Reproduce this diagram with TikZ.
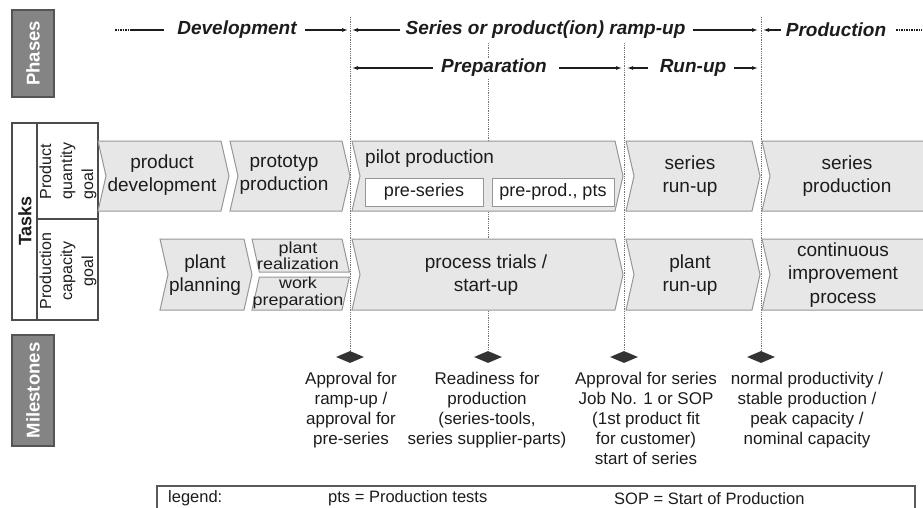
\documentclass[tikz,border=0pt]{standalone}
\usepackage{fontspec}
\setmainfont{Liberation Sans}
\usetikzlibrary{arrows.meta,shapes.geometric}

\definecolor{chevfill}{RGB}{231,231,231}
\definecolor{chevline}{RGB}{150,150,150}
\definecolor{tagfill}{RGB}{132,132,132}
\definecolor{tagline}{RGB}{85,85,85}
\definecolor{ink}{RGB}{28,28,28}
\definecolor{guidegray}{RGB}{115,115,115}

% closed chevron: left x, right x, top y, bottom y
\newcommand\chev[4]{%
  \draw[chev] (#1,#3) -- (#2,#3) -- ({#2+8},{(#3+#4)/2}) -- (#2,#4) -- (#1,#4)
    -- ({#1+8},{(#3+#4)/2}) -- cycle;}
% chevron running off the right edge: left x, top y, bottom y
\newcommand\chevopen[3]{%
  \fill[chevfill] (935,#2) -- (#1,#2) -- ({#1+8},{(#2+#3)/2}) -- (#1,#3) -- (935,#3) -- cycle;
  \draw[chevline,line width=1pt] (935,#2) -- (#1,#2) -- ({#1+8},{(#2+#3)/2}) -- (#1,#3) -- (935,#3);}

\begin{document}
\begin{tikzpicture}[x=1pt,y=-1pt,
  chev/.style={fill=chevfill,draw=chevline,line width=1pt},
  chevtext/.style={font=\fontsize{19}{23.5}\selectfont,text=ink,align=center,inner sep=0pt},
  subtext/.style={font=\fontsize{16}{16.5}\selectfont,text=ink,align=center,inner sep=0pt},
  inbox/.style={fill=white,draw=chevline,line width=1pt,minimum height=28pt,inner sep=0pt,
    font=\fontsize{18}{22}\selectfont,text=ink},
  phase/.style={font=\fontsize{19}{23}\selectfont\bfseries\itshape,text=ink,inner sep=0pt},
  span/.style={-{Latex[length=6pt,width=4pt]},line width=1.1pt,draw=ink},
  plainline/.style={line width=1.1pt,draw=ink},
  guide/.style={draw=guidegray,line width=1pt,dash pattern=on 1pt off 0.8pt},
  tag/.style={fill=tagfill,draw=tagline,line width=1.5pt},
  tagtext/.style={rotate=90,text=white,font=\fontsize{18.5}{20}\selectfont\bfseries,inner sep=0pt},
  rowtext/.style={rotate=90,text=ink,font=\fontsize{16}{21}\selectfont,inner sep=0pt},
  mile/.style={diamond,fill=ink!90,minimum width=28pt,minimum height=12pt,inner sep=0pt},
  mstext/.style={font=\fontsize{17}{20}\selectfont,text=ink,align=center,anchor=north,inner sep=0pt},
  legendtext/.style={font=\fontsize{16.5}{20}\selectfont,text=ink,anchor=west,inner sep=0pt}]

\useasboundingbox (0,0) rectangle (923,508);
\clip (0,0) rectangle (923,508);

% ---- row labels on the left
\draw[tag] (12,10) rectangle (54,97);
\node[tagtext] (phases) at (33,53.5) {Phases};

\draw[line width=1.3pt,draw=black!70] (12,123) rectangle (98,320);
\draw[line width=1.3pt,draw=black!70] (37,123) -- (37,320);
\draw[line width=1.3pt,draw=black!70] (37,219) -- (98,219);
\node[rotate=90,text=ink,font=\fontsize{18}{20}\selectfont\bfseries,inner sep=0pt] (tasks) at (25,221) {Tasks};
\node[rowtext,align=left] (qgoal) at (68,171) {Product\\quantity\\goal};
\node[rowtext,align=center] (cgoal) at (68,271) {Production\\capacity\\goal};

\draw[tag] (12,335) rectangle (54,446);
\node[tagtext] (miles) at (33,390.5) {Milestones};

% ---- milestone guides and diamonds
\coordinate (g1) at (350,17);
\coordinate (g2) at (488,43);
\coordinate (g3) at (624,43);
\coordinate (g4) at (761,17);
\node[mile] (m1) at (350,357) {};
\node[mile] (m2) at (488,357) {};
\node[mile] (m3) at (624,357) {};
\node[mile] (m4) at (761,357) {};
\draw[guide] (g1) -- (m1.north);
\draw[guide] (g2) -- (m2.north);
\draw[guide] (g3) -- (m3.north);
\draw[guide] (g4) -- (m4.north);

% ---- phases, first row
\coordinate (d0) at (115,30);
\coordinate (d1) at (131,30);
\coordinate (a1) at (348,30);
\coordinate (a2) at (352,30);
\coordinate (a3) at (758,30);
\coordinate (a4) at (763,30);
\coordinate (e1) at (922,30);
\node[phase] (dev) at (237,30) {Development};
\node[phase] (ser) at (545.5,30) {Series or product(ion) ramp-up};
\node[phase] (prod) at (836,30) {Production};
\draw[plainline,dash pattern=on 1.5pt off 1pt] (d0) -- (d1);
\draw[plainline] (d1) -- ([xshift=-13pt]dev.west);
\draw[span] ([xshift=8pt]dev.east) -- (a1);
\draw[span] ([xshift=-5pt]ser.west) -- (a2);
\draw[span] ([xshift=7pt]ser.east) -- (a3);
\draw[span] ([xshift=-5pt]prod.west) -- (a4);
\draw[plainline,dash pattern=on 1.5pt off 1pt] ([xshift=10pt]prod.east) -- (e1);

% ---- phases, second row
\coordinate (b1) at (352,68);
\coordinate (b2) at (622,68);
\coordinate (b3) at (627,68);
\coordinate (b4) at (758,68);
\node[phase,fill=white,inner sep=1pt] (prep) at (494,68) {Preparation};
\node[phase] (run) at (693,68) {Run-up};
\draw[span] ([xshift=-7pt]prep.west) -- (b1);
\draw[span] ([xshift=11pt]prep.east) -- (b2);
\draw[span] ([xshift=-12pt]run.west) -- (b3);
\draw[span] ([xshift=8pt]run.east) -- (b4);

% ---- product quantity goal chevrons
\chev{98}{221}{141}{211}
\chev{230}{342}{141}{211}
\chev{352}{615}{141}{211}
\chev{626}{752}{141}{211}
\chevopen{762}{141}{211}
\node[chevtext] (pdev) at (162,175) {product\\development};
\node[chevtext] (proto) at (284,175) {prototyp\\production};
\node[chevtext,anchor=west] (pilot) at (365,159) {pilot production};
\node[inbox,minimum width=118pt] (preser) at (424,192) {pre-series};
\node[inbox,minimum width=122pt] (preprod) at (553,192) {pre-prod., pts};
\node[chevtext] (srun) at (690,176) {series\\run-up};
\node[chevtext] (sprod) at (847,176) {series\\production};

% ---- production capacity goal chevrons
\chev{160}{244}{239}{310}
\draw[chev] (252,239) -- (342,239) -- (349.4,272) -- (259.4,272) -- cycle;
\draw[chev] (259.4,277) -- (349.4,277) -- (342,310) -- (252,310) -- cycle;
\chev{352}{615}{239}{310}
\chev{626}{752}{239}{310}
\chevopen{762}{239}{310}
\node[chevtext] (pplan) at (205,275) {plant\\planning};
\node[subtext] (preal) at (298,256) {\scalebox{1.12}[1]{plant}\\\scalebox{1.12}[1]{realization}};
\node[subtext] (wprep) at (298,293) {\scalebox{1.12}[1]{work}\\\scalebox{1.12}[1]{preparation}};
\node[chevtext] (ptrial) at (486,275) {process trials /\\start-up};
\node[chevtext] (prun) at (690,275) {plant\\run-up};
\node[chevtext] (cip) at (843,275) {continuous\\improvement\\process};

% ---- milestone texts
\node[mstext] (t1) at (351,372) {Approval for\\ramp-up /\\approval for\\pre-series};
\node[mstext] (t2) at (487,372) {Readiness for\\production\\(series-tools,\\series supplier-parts)};
\node[mstext] (t3) at (646,372) {Approval for series\\Job No. 1 or SOP\\(1st product fit\\for customer)\\start of series};
\node[mstext] (t4) at (807,372) {normal productivity /\\stable production /\\peak capacity /\\nominal capacity};

% ---- legend
\draw[line width=1.5pt,draw=black!65] (157,486) rectangle (915,530);
\node[legendtext] (leg) at (168,498.5) {legend:};
\node[legendtext] (pts) at (328,498.5) {pts = Production tests};
\node[legendtext] (sop) at (614,498.5) {SOP = Start of Production};
\end{tikzpicture}
\end{document}
